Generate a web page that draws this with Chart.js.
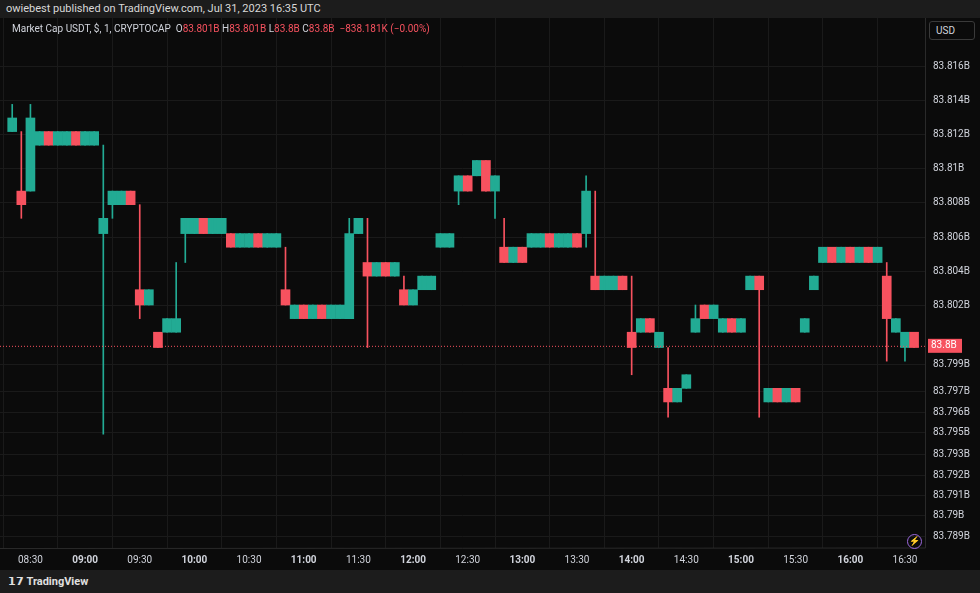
<!DOCTYPE html>
<html><head><meta charset="utf-8">
<script src="https://cdn.jsdelivr.net/npm/chart.js@4"></script>
<style>
 body{margin:0;width:980px;height:593px;background:#0b0b0b;font-family:Roboto,"Noto Sans",sans-serif;overflow:hidden;position:relative}
 #top{position:absolute;left:0;top:0;width:980px;height:18px;background:#1c1c1c;color:#d8d8d8;font-size:11px;line-height:18px;padding-left:6px;z-index:2}
 #bot{position:absolute;left:0;top:570px;width:980px;height:23px;background:#1c1c1c;color:#e0e0e0;font-size:11px;line-height:23px;padding-left:8px;z-index:2}
 #wrap{position:absolute;left:0;top:4px;width:980px;height:566px}
 #legend{position:absolute;left:12px;top:23px;font-size:10px;color:#d1d4dc}
 #legend .r{color:#f7525f}
 #usd{position:absolute;left:929px;top:21px;width:44px;height:17px;border:1px solid #3a3a3a;border-radius:3px;color:#d1d4dc;font-size:10px;line-height:17px;text-indent:6px;background:#0b0b0b}
 #bolt{position:absolute;left:907px;top:534px;width:13px;height:13px;border:1px solid #9c6ade;border-radius:50%;color:#9c6ade;font-size:9px;line-height:13px;text-align:center}
</style></head><body>
<div id="top">owiebest published on TradingView.com, Jul 31, 2023 16:35 UTC</div>
<div id="wrap"><canvas id="c" width="980" height="566"></canvas></div>
<div id="legend">Market Cap USDT, $, 1, CRYPTOCAP&nbsp;&nbsp;O<span class="r">83.801B</span>&nbsp;H<span class="r">83.801B</span>&nbsp;L<span class="r">83.8B</span>&nbsp;C<span class="r">83.8B</span>&nbsp;&nbsp;<span class="r">−838.181K (−0.00%)</span></div>
<div id="usd">USD</div>
<div id="bolt">⚡</div>
<div id="bot"><b>𝟭𝟳 TradingView</b></div>
<script>
// minutes since midnight, 5-min candles (prices in billions)
const times = [500,505,510,515,520,525,530,535,540,545,550,555,560,565,570,575,580,585,590,595,
 600,605,610,615,620,625,630,635,640,645,650,655,660,665,670,675,680,685,690,695,
 700,705,710,715,720,725,730,735,740,745,750,755,760,765,770,775,780,785,790,795,
 800,805,810,815,820,825,830,835,840,845,850,855,860,865,870,875,880,885,890,895,
 900,905,910,915,920,925,930,935,940,945,950,955,960,965,970,975,980,985,990,995];
const opens = [83.8122,83.8087,83.8087,83.8114,83.8122,83.8114,83.8114,83.8122,83.8114,83.8114,83.8062,83.8079,83.8079,83.8087,83.8029,83.8020,83.8004,83.8004,83.8004,83.8062,
 83.8062,83.8071,83.8062,83.8062,83.8062,83.8054,83.8054,83.8062,83.8054,83.8054,83.8029,83.8012,83.8020,83.8012,83.8020,83.8012,83.8012,83.8012,83.8062,83.8045,
 83.8037,83.8045,83.8037,83.8029,83.8020,83.8029,83.8029,83.8054,83.8054,83.8087,83.8096,83.8096,83.8105,83.8087,83.8054,83.8045,83.8054,83.8054,83.8054,83.8062,
 83.8054,83.8054,83.8062,83.8062,83.8037,83.8029,83.8029,83.8037,83.8004,83.8004,83.8012,83.7995,83.7971,83.7963,83.7971,83.8004,83.8020,83.8012,83.8004,83.8012,
 83.8004,83.8029,83.8037,83.7963,83.7971,83.7963,83.7971,83.8004,83.8029,83.8045,83.8054,83.8045,83.8054,83.8045,83.8054,83.8045,83.8037,83.8004,83.7995,83.8004];
const highs = [83.8138,83.8122,83.8138,83.8122,83.8122,83.8122,83.8122,83.8122,83.8122,83.8122,83.8114,83.8087,83.8087,83.8087,83.8079,83.8029,83.8004,83.8012,83.8045,83.8071,
 83.8071,83.8071,83.8071,83.8071,83.8062,83.8062,83.8062,83.8062,83.8062,83.8062,83.8054,83.8020,83.8020,83.8020,83.8020,83.8020,83.8020,83.8071,83.8071,83.8071,
 83.8045,83.8045,83.8045,83.8037,83.8029,83.8037,83.8037,83.8062,83.8062,83.8096,83.8096,83.8105,83.8105,83.8096,83.8071,83.8054,83.8054,83.8062,83.8062,83.8062,
 83.8062,83.8062,83.8062,83.8096,83.8087,83.8037,83.8037,83.8037,83.8037,83.8012,83.8012,83.8004,83.7995,83.7971,83.7979,83.8020,83.8020,83.8020,83.8012,83.8012,
 83.8012,83.8037,83.8037,83.7971,83.7971,83.7971,83.7971,83.8012,83.8037,83.8054,83.8054,83.8054,83.8054,83.8054,83.8054,83.8054,83.8045,83.8012,83.8004,83.8004];
const lows = [83.8122,83.8071,83.8087,83.8114,83.8114,83.8114,83.8114,83.8114,83.8114,83.8114,83.7944,83.8071,83.8079,83.8079,83.8012,83.8020,83.7995,83.8004,83.8004,83.8045,
 83.8062,83.8062,83.8062,83.8062,83.8054,83.8054,83.8054,83.8054,83.8054,83.8054,83.8020,83.8012,83.8012,83.8012,83.8012,83.8012,83.8012,83.8012,83.8062,83.7995,
 83.8037,83.8037,83.8037,83.8020,83.8020,83.8029,83.8029,83.8054,83.8054,83.8079,83.8087,83.8096,83.8087,83.8071,83.8045,83.8045,83.8045,83.8054,83.8054,83.8054,
 83.8054,83.8054,83.8054,83.8054,83.8029,83.8029,83.8029,83.8029,83.7979,83.8004,83.8004,83.7995,83.7954,83.7963,83.7971,83.8004,83.8012,83.8012,83.8004,83.8004,
 83.8004,83.8029,83.7954,83.7963,83.7963,83.7963,83.7963,83.8004,83.8029,83.8045,83.8045,83.8045,83.8045,83.8045,83.8045,83.8045,83.7987,83.8004,83.7987,83.7995];
const closes = [83.8130,83.8079,83.8130,83.8122,83.8114,83.8122,83.8122,83.8114,83.8122,83.8122,83.8071,83.8087,83.8087,83.8079,83.8020,83.8029,83.7995,83.8012,83.8012,83.8071,
 83.8071,83.8062,83.8071,83.8071,83.8054,83.8062,83.8062,83.8054,83.8062,83.8062,83.8020,83.8020,83.8012,83.8020,83.8012,83.8020,83.8020,83.8062,83.8071,83.8037,
 83.8045,83.8037,83.8045,83.8020,83.8029,83.8037,83.8037,83.8062,83.8062,83.8096,83.8087,83.8105,83.8087,83.8096,83.8045,83.8054,83.8045,83.8062,83.8062,83.8054,
 83.8062,83.8062,83.8054,83.8087,83.8029,83.8037,83.8037,83.8029,83.7995,83.8012,83.8004,83.8004,83.7963,83.7971,83.7979,83.8012,83.8012,83.8020,83.8012,83.8004,
 83.8012,83.8037,83.8029,83.7971,83.7963,83.7971,83.7963,83.8012,83.8037,83.8054,83.8045,83.8054,83.8045,83.8054,83.8045,83.8054,83.8012,83.8012,83.8004,83.7995];
const timeTicks = [510,540,570,600,630,660,690,720,750,780,810,840,870,900,930,960,990];
const priceTicks = [83.816,83.814,83.812,83.81,83.808,83.806,83.804,83.802,83.7985,83.7969,83.7957,83.7945,83.7932,83.792,83.7908,83.7896,83.7884];
const priceLabels = ['83.816B','83.814B','83.812B','83.81B','83.808B','83.806B','83.804B','83.802B','83.799B','83.797B','83.796B','83.795B','83.793B','83.792B','83.791B','83.79B','83.789B'];
const lastPrice = 83.7996;

const UP = '#22ab94', DOWN = '#f7525f';
const col = times.map((t,i) => closes[i] >= opens[i] ? UP : DOWN);
const pad = n => String(n).padStart(2,'0');

const lastLine = {
  id:'lastLine',
  afterDraw(chart){
    const {ctx, chartArea:a, scales:{y}} = chart;
    const py = y.getPixelForValue(lastPrice);
    ctx.save();
    ctx.strokeStyle = DOWN; ctx.setLineDash([1,2]); ctx.lineWidth = 1;
    ctx.beginPath(); ctx.moveTo(a.left,py+0.5); ctx.lineTo(a.right,py+0.5); ctx.stroke();
    ctx.setLineDash([]);
    ctx.fillStyle = DOWN; ctx.fillRect(a.right+3, py-7, 34, 14);
    ctx.fillStyle = '#fff'; ctx.font = '10px Roboto'; ctx.textBaseline = 'middle';
    ctx.fillText('83.8B', a.right+6, py);
    ctx.strokeStyle = '#2a2a2a'; ctx.beginPath();
    ctx.moveTo(a.right+0.5, 0); ctx.lineTo(a.right+0.5, a.bottom); ctx.lineTo(0, a.bottom+0.5); ctx.stroke();
    ctx.restore();
  }
};

new Chart(document.getElementById('c'), {
  type: 'bar',
  data: {
    datasets: [
      { data: times.map((t,i) => ({x:t, y:[lows[i], highs[i]]})), backgroundColor: col, barThickness: 1, grouped:false },
      { data: times.map((t,i) => ({x:t, y:[opens[i], closes[i]]})), backgroundColor: col, barThickness: 9, minBarLength: 1, grouped:false }
    ]
  },
  options: {
    responsive:false, animation:false, devicePixelRatio:1,
    layout:{padding:0},
    plugins:{legend:{display:false}, tooltip:{enabled:false}},
    scales:{
      x:{type:'linear', min:493.3, max:1001, offset:false,
        afterBuildTicks: s => { s.ticks = timeTicks.map(v => ({value:v})); },
        afterFit: s => { s.height = 22; },
        grid:{color:'#1a1a1a', drawTicks:false}, border:{display:false},
        ticks:{color:'#d1d4dc', maxRotation:0, autoSkip:false, padding:6,
          font: c => ({family:'Roboto', size:10, weight: c.tick && c.tick.value % 60 === 0 ? 'bold' : 'normal'}),
          callback: v => pad(Math.floor(v/60)) + ':' + pad(v%60)}},
      y:{position:'right', min:83.78771, max:83.81888,
        afterBuildTicks: s => { s.ticks = priceTicks.map(v => ({value:v})); },
        afterFit: s => { s.width = 55; },
        grid:{color:'#1a1a1a', drawTicks:false}, border:{display:false},
        ticks:{color:'#d1d4dc', padding:8, autoSkip:false, font:{family:'Roboto', size:10},
          callback: (v,i) => priceLabels[i]}}
    }
  },
  plugins:[lastLine]
});
</script>
</body></html>
